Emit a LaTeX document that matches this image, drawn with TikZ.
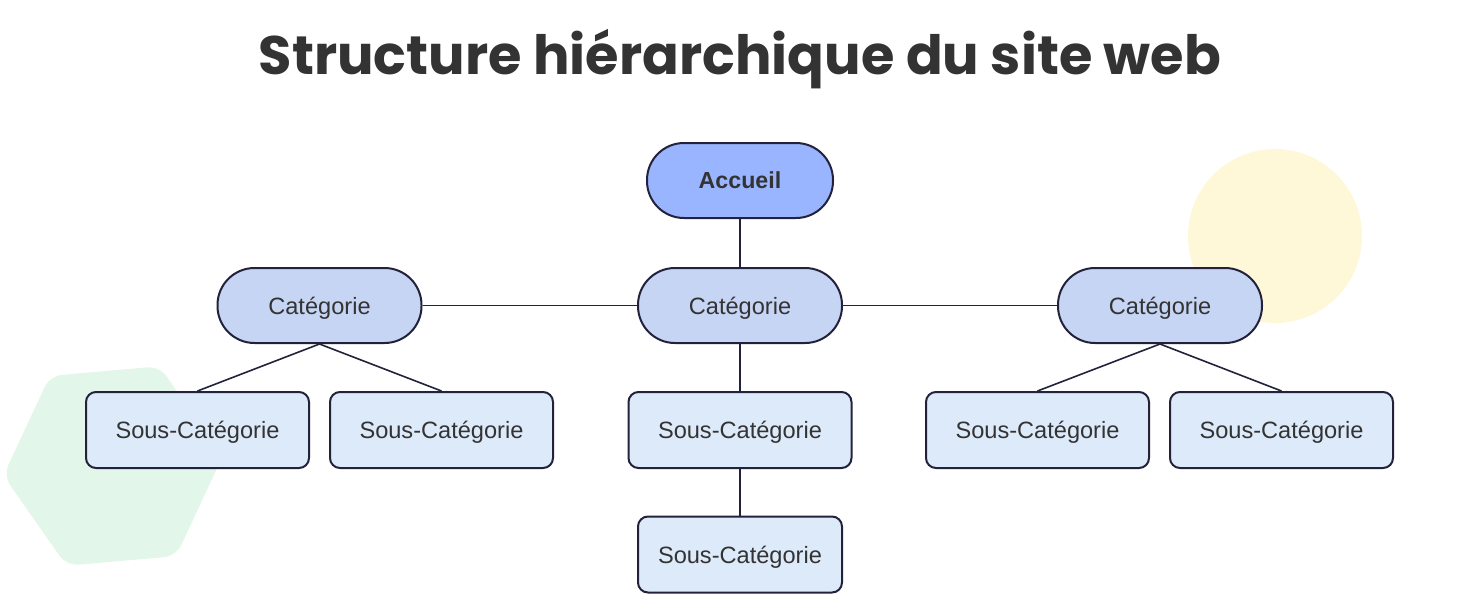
\documentclass[tikz,border=0pt]{standalone}
\usepackage{fontspec}
\setmainfont{Liberation Sans}
\newfontfamily\titlefont{Poppins}
\usetikzlibrary{positioning}
\definecolor{inkdark}{HTML}{22223A}
\definecolor{txtdark}{HTML}{333333}
\definecolor{homefill}{HTML}{99B5FF}
\definecolor{catfill}{HTML}{C6D5F4}
\definecolor{subfill}{HTML}{DDEAFA}
\definecolor{sunfill}{HTML}{FFF8D8}
\definecolor{hexfill}{HTML}{E2F6EA}

\begin{document}
\begin{tikzpicture}[
    x=0.5pt, y=-0.5pt,
    home/.style={draw=inkdark, line width=1pt, fill=homefill, rounded corners=18.5pt, minimum width=93pt, minimum height=37.5pt, align=center, font=\fontsize{11.6}{13}\selectfont\bfseries, text=txtdark, text depth=0pt},
    cat/.style={draw=inkdark, line width=1pt, fill=catfill, rounded corners=18.5pt, minimum width=102pt, minimum height=37.5pt, align=center, font=\fontsize{11.8}{13}\selectfont, text=txtdark, text depth=0pt},
    sub/.style={draw=inkdark, line width=1pt, fill=subfill, rounded corners=5pt, minimum width=111.5pt, minimum height=38pt, align=center, font=\fontsize{11.8}{13}\selectfont, text=txtdark, text depth=0pt},
    link/.style={draw=inkdark, line width=0.8pt}
]
\useasboundingbox (0,0) rectangle (1480,600);

% decoration
\fill[sunfill] (1275,236) circle (43.5pt);
\fill[hexfill, rounded corners=6pt] (222.6,456.4) -- (159.5,366.3) -- (49.9,375.9) -- (3.4,475.6) -- (66.5,565.7) -- (176.1,556.1) -- cycle;

\node[font=\titlefont\fontsize{27.1}{32}\selectfont\bfseries, text=txtdark] (title) at (740,59) {Structure hiérarchique du site web};

\node[home] (accueil) at (740,180.5) {Accueil};
\node[cat] (catL) at (319.5,305.5) {Catégorie};
\node[cat] (catC) at (740,305.5) {Catégorie};
\node[cat] (catR) at (1160,305.5) {Catégorie};

\node[sub] (subL1) at (197.5,430) {Sous-Catégorie};
\node[sub] (subL2) at (441.5,430) {Sous-Catégorie};
\node[sub] (subC1) at (740,430) {Sous-Catégorie};
\node[sub] (subR1) at (1037.5,430) {Sous-Catégorie};
\node[sub] (subR2) at (1281.5,430) {Sous-Catégorie};
\node[sub, minimum width=102pt] (subC2) at (740,554.5) {Sous-Catégorie};

\draw[link] (accueil) -- (catC);
\draw[link] (catC) -- (catL);
\draw[link] (catC) -- (catR);
\draw[link] (catL.south) -- (subL1.north);
\draw[link] (catL.south) -- (subL2.north);
\draw[link] (catC) -- (subC1);
\draw[link] (catR.south) -- (subR1.north);
\draw[link] (catR.south) -- (subR2.north);
\draw[link] (subC1) -- (subC2);
\end{tikzpicture}
\end{document}
